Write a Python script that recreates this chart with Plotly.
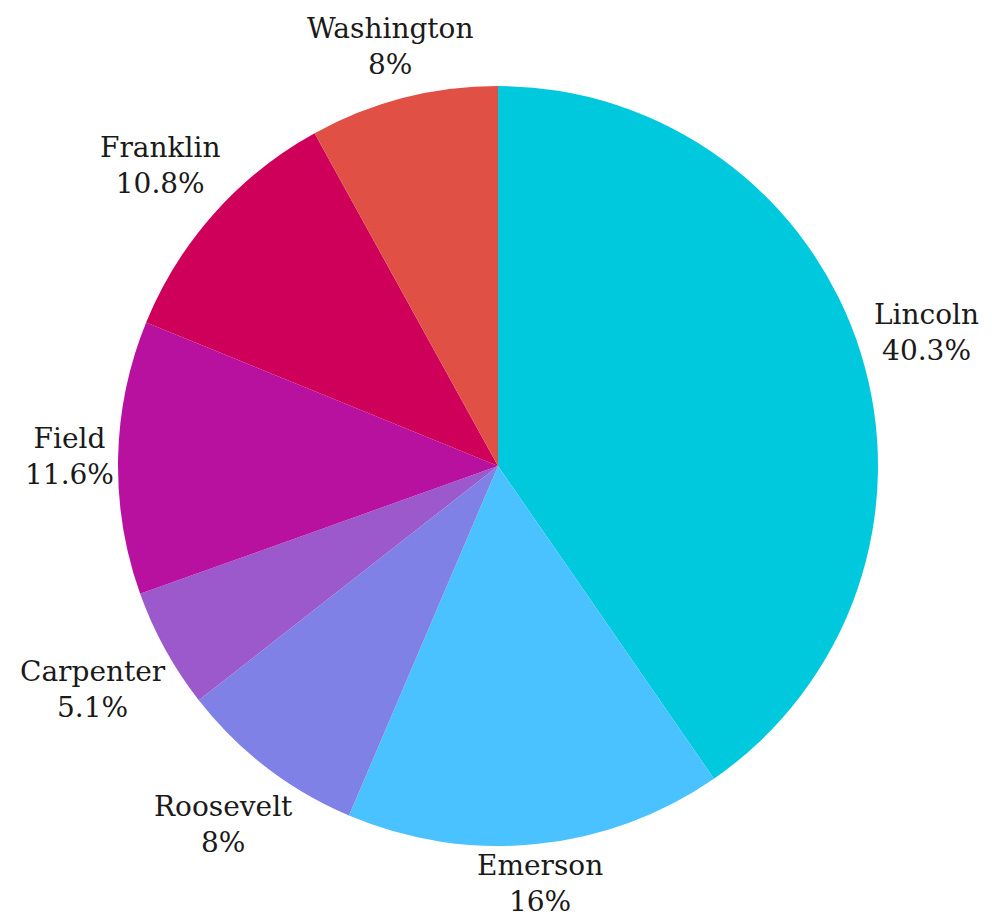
import math
import plotly.graph_objects as go

labels = ["Lincoln", "Emerson", "Roosevelt", "Carpenter", "Field", "Franklin", "Washington"]
values = [40.3, 16, 8, 5.1, 11.6, 10.8, 8]
colors = ["#00C9DE", "#4AC2FF", "#7F81E6", "#9B59CC", "#B9119F", "#CF0059", "#E05045"]

texts = [f"{l}<br>{v:g}%" for l, v in zip(labels, values)]

# figure geometry (px inside the figure)
W, H = 984, 909
CX, CY, R = 490, 458, 380
FONT_SIZE = 28
CHAR_W = 15.6      # approximate glyph advance for label width estimate
HALF_H = 25        # half height of a two-line label block
GAP = 9

fig = go.Figure(go.Pie(
    labels=labels,
    values=values,
    textinfo="none",
    automargin=False,
    sort=False,
    direction="clockwise",
    rotation=0,
    marker=dict(colors=colors, line=dict(width=0)),
    showlegend=False,
    hoverinfo="label+value",
    domain=dict(x=[(CX - R) / W, (CX + R) / W],
                y=[1 - (CY + R) / H, 1 - (CY - R) / H]),
))

total = sum(values)
cum = 0.0
annotations = []
for lab, val, txt in zip(labels, values, texts):
    mid = (cum + val / 2) / total * 2 * math.pi
    cum += val
    s, c = math.sin(mid), math.cos(mid)
    half_w = max(len(lab), len(f"{val:g}%")) * CHAR_W / 2
    d = R + GAP + half_w * abs(s) + HALF_H * abs(c)
    px = CX + d * s
    py = CY - d * c
    annotations.append(dict(
        x=px / W, y=1 - py / H, xref="paper", yref="paper",
        text=txt, showarrow=False, xanchor="center", yanchor="middle",
        align="center",
        font=dict(family="DejaVu Serif", size=FONT_SIZE, color="#1a1a1a"),
    ))

fig.update_layout(
    width=W, height=H,
    margin=dict(l=0, r=0, t=0, b=0, autoexpand=False),
    paper_bgcolor="white",
    plot_bgcolor="white",
    annotations=annotations,
)

fig.write_html("out.html")
